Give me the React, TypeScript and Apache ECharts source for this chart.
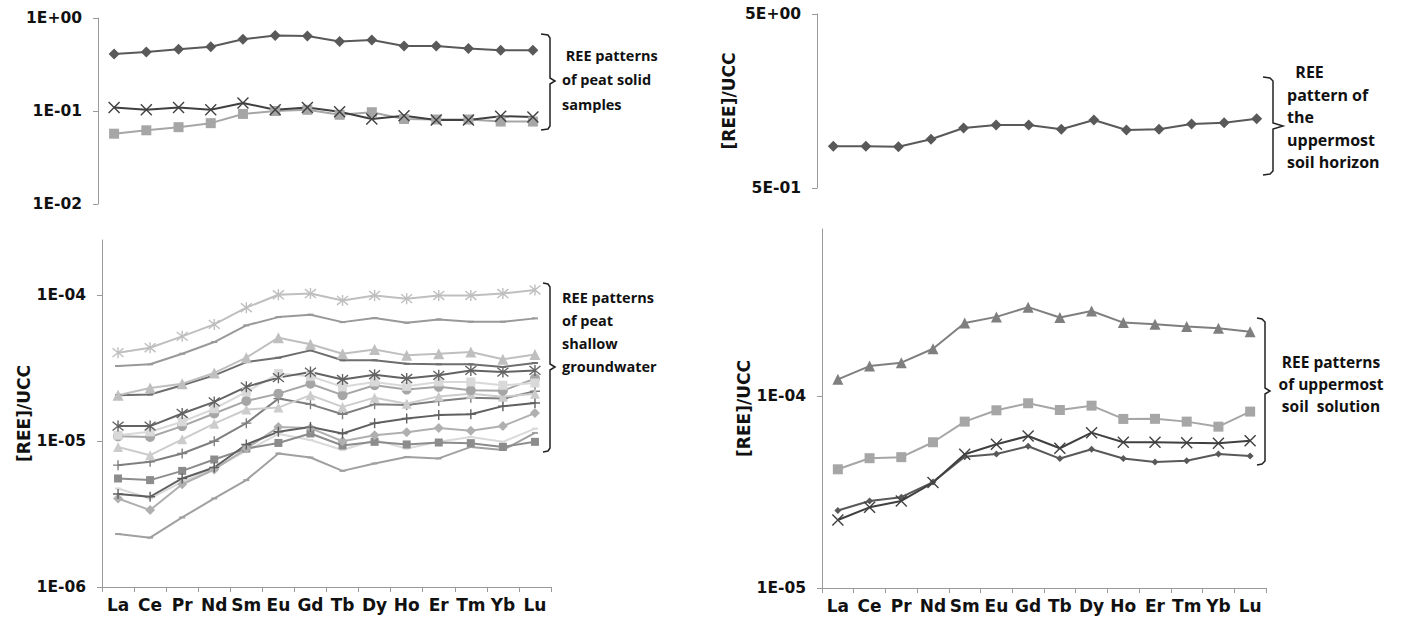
import React, { useEffect, useRef } from 'react';
import * as echarts from 'echarts';

const categories = ['La', 'Ce', 'Pr', 'Nd', 'Sm', 'Eu', 'Gd', 'Tb', 'Dy', 'Ho', 'Er', 'Tm', 'Yb', 'Lu'];

// Panel 1: peat solid samples
const peatSolidA = [0.41, 0.43, 0.46, 0.49, 0.59, 0.65, 0.64, 0.56, 0.58, 0.5, 0.5, 0.47, 0.45, 0.45];
const peatSolidB = [0.109, 0.103, 0.109, 0.103, 0.122, 0.103, 0.109, 0.098, 0.082, 0.089, 0.08, 0.08, 0.088, 0.086];
const peatSolidC = [0.057, 0.062, 0.067, 0.074, 0.093, 0.1, 0.103, 0.091, 0.097, 0.082, 0.081, 0.081, 0.077, 0.077];

// Panel 2: peat shallow groundwater
const gwA = [4.05e-5, 4.38e-5, 5.24e-5, 6.33e-5, 8.24e-5, 1.01e-4, 1.03e-4, 9.24e-5, 1.0e-4, 9.5e-5, 1.0e-4, 1.0e-4, 1.03e-4, 1.09e-4];
const gwB = [3.28e-5, 3.37e-5, 3.98e-5, 4.79e-5, 6.23e-5, 7.1e-5, 7.38e-5, 6.56e-5, 7.0e-5, 6.5e-5, 6.85e-5, 6.6e-5, 6.6e-5, 6.96e-5];
const gwC = [2.07e-5, 2.32e-5, 2.48e-5, 2.94e-5, 3.74e-5, 5.13e-5, 4.62e-5, 3.98e-5, 4.25e-5, 3.88e-5, 3.98e-5, 4.09e-5, 3.65e-5, 3.94e-5];
const gwD = [2.07e-5, 2.09e-5, 2.42e-5, 2.83e-5, 3.49e-5, 3.74e-5, 4.2e-5, 3.59e-5, 3.59e-5, 3.4e-5, 3.37e-5, 3.37e-5, 3.23e-5, 3.44e-5];
const gwE = [1.27e-5, 1.27e-5, 1.55e-5, 1.86e-5, 2.36e-5, 2.73e-5, 2.98e-5, 2.65e-5, 2.86e-5, 2.69e-5, 2.83e-5, 3.06e-5, 2.98e-5, 3.06e-5];
const gwF = [1.1e-5, 1.16e-5, 1.36e-5, 1.67e-5, 2.18e-5, 2.91e-5, 2.79e-5, 2.36e-5, 2.55e-5, 2.38e-5, 2.55e-5, 2.55e-5, 2.42e-5, 2.51e-5];
const gwG = [1.08e-5, 1.07e-5, 1.27e-5, 1.55e-5, 1.89e-5, 2.12e-5, 2.48e-5, 2.07e-5, 2.42e-5, 2.26e-5, 2.36e-5, 2.24e-5, 2.22e-5, 2.69e-5];
const gwH = [9.14e-6, 8.02e-6, 1.03e-5, 1.32e-5, 1.65e-5, 1.7e-5, 2.07e-5, 1.72e-5, 1.99e-5, 1.81e-5, 2.03e-5, 2.12e-5, 2.02e-5, 2.12e-5];
const gwI = [6.85e-6, 7.22e-6, 8.24e-6, 1.0e-5, 1.33e-5, 1.96e-5, 1.79e-5, 1.53e-5, 1.79e-5, 1.77e-5, 1.89e-5, 1.99e-5, 1.96e-5, 2.2e-5];
const gwJ = [4.34e-6, 4.16e-6, 5.55e-6, 6.6e-6, 9.5e-6, 1.16e-5, 1.25e-5, 1.13e-5, 1.33e-5, 1.43e-5, 1.51e-5, 1.53e-5, 1.74e-5, 1.83e-5];
const gwK = [4.05e-6, 3.37e-6, 5.07e-6, 6.4e-6, 8.9e-6, 1.25e-5, 1.23e-5, 1.0e-5, 1.1e-5, 1.15e-5, 1.23e-5, 1.18e-5, 1.27e-5, 1.56e-5];
const gwL = [5.55e-6, 5.41e-6, 6.26e-6, 7.49e-6, 8.9e-6, 9.73e-6, 1.13e-5, 9.35e-6, 9.9e-6, 9.5e-6, 9.8e-6, 9.7e-6, 9.14e-6, 9.9e-6];
const gwM = [4.74e-6, 4.05e-6, 5.26e-6, 6.5e-6, 8.58e-6, 1.12e-5, 1.02e-5, 8.7e-6, 1.02e-5, 8.9e-6, 9.9e-6, 1.07e-5, 9.9e-6, 1.22e-5];
const gwN = [2.31e-6, 2.18e-6, 3.0e-6, 4.05e-6, 5.41e-6, 8.24e-6, 7.73e-6, 6.26e-6, 7.04e-6, 7.8e-6, 7.62e-6, 9.14e-6, 8.7e-6, 1.14e-5];

// Panel 3: uppermost soil horizon
const soilHorizon = [0.87, 0.87, 0.864, 0.953, 1.106, 1.151, 1.15, 1.087, 1.23, 1.077, 1.087, 1.166, 1.186, 1.25];

// Panel 4: uppermost soil solution
const solA = [1.22e-4, 1.43e-4, 1.49e-4, 1.76e-4, 2.4e-4, 2.58e-4, 2.9e-4, 2.56e-4, 2.77e-4, 2.41e-4, 2.36e-4, 2.3e-4, 2.25e-4, 2.16e-4];
const solB = [4.15e-5, 4.74e-5, 4.8e-5, 5.74e-5, 7.35e-5, 8.42e-5, 9.16e-5, 8.45e-5, 8.9e-5, 7.59e-5, 7.6e-5, 7.35e-5, 6.92e-5, 8.29e-5];
const solC = [2.26e-5, 2.63e-5, 2.84e-5, 3.54e-5, 4.97e-5, 5.6e-5, 6.19e-5, 5.34e-5, 6.44e-5, 5.74e-5, 5.74e-5, 5.7e-5, 5.67e-5, 5.85e-5];
const solD = [2.53e-5, 2.84e-5, 2.97e-5, 3.56e-5, 4.83e-5, 4.99e-5, 5.47e-5, 4.72e-5, 5.28e-5, 4.72e-5, 4.53e-5, 4.6e-5, 4.99e-5, 4.87e-5];

// tick labels
const ticksTL = [1e-2, 1e-1, 1];
const ticksBL = [1e-6, 1e-5, 1e-4];
const ticksTR = [0.5, 5];
const ticksBR = [1e-5, 1e-4];

const AXIS = '#9a9a9a';
const LABEL_FONT = '"DejaVu Sans", sans-serif';
const NOTE_FONT = '"Open Sans", Lato, sans-serif';

const X_SYM = 'path://M0,0L10,10M10,0L0,10';
const PLUS_SYM = 'path://M5,0L5,10M0,5L10,5';
const STAR_SYM = 'path://M5,0L5,10M1,1L9,9M9,1L1,9';

function fmt(v: number): string {
  const e = Math.floor(Math.log10(v) + 1e-9);
  const m = Math.round(v / Math.pow(10, e));
  const s = e < 0 ? '-' : '+';
  return `${m}E${s}${String(Math.abs(e)).padStart(2, '0')}`;
}

function yAxis(gridIndex: number, min: number, max: number, ticks: number[], name?: string, nameGap?: number) {
  return {
    type: 'log',
    logBase: 10,
    gridIndex,
    min,
    max,
    name: name || '',
    nameLocation: 'middle',
    nameGap: nameGap || 0,
    nameTextStyle: { fontFamily: LABEL_FONT, fontWeight: 'bold', fontSize: 17, color: '#111' },
    axisLine: { show: true, lineStyle: { color: AXIS, width: 1 } },
    axisTick: { show: true, inside: false, length: 5, lineStyle: { color: AXIS }, customValues: ticks },
    axisLabel: {
      customValues: ticks,
      formatter: (v: number) => fmt(v),
      margin: 16,
      fontFamily: LABEL_FONT,
      fontWeight: 'bold',
      fontSize: 15.5,
      color: '#111',
    },
    splitLine: { show: false },
    minorTick: { show: false },
    minorSplitLine: { show: false },
  };
}

function xAxis(gridIndex: number, show: boolean) {
  return {
    type: 'category',
    gridIndex,
    data: categories,
    boundaryGap: true,
    show,
    axisLine: { show, lineStyle: { color: AXIS, width: 1 } },
    axisTick: { show, length: 5, alignWithLabel: false, lineStyle: { color: AXIS } },
    axisLabel: {
      show,
      interval: 0,
      margin: 9,
      fontFamily: LABEL_FONT,
      fontWeight: 'bold',
      fontSize: 17,
      color: '#111',
    },
    splitLine: { show: false },
  };
}

function line(idx: number, data: number[], color: string, symbol: string, size: number | number[], stroke = false) {
  return {
    type: 'line',
    xAxisIndex: idx,
    yAxisIndex: idx,
    data,
    symbol,
    symbolSize: size,
    showAllSymbol: true,
    lineStyle: { color, width: 2 },
    itemStyle: stroke ? { color, borderColor: color, borderWidth: 1.4 } : { color, borderWidth: 0 },
    emphasis: { disabled: true },
    z: 2,
  };
}

function brace(points: number[][]) {
  return {
    type: 'polyline',
    shape: { points },
    style: { stroke: '#222', lineWidth: 1.5, fill: null },
  };
}

function note(x: number, y: number, text: string, lineHeight: number, align = 'left', size = 15) {
  return {
    type: 'text',
    x,
    y,
    style: {
      text,
      font: `bold ${size}px ${NOTE_FONT}`,
      fill: '#111',
      lineHeight,
      align,
      verticalAlign: 'top',
    },
  };
}

export default function App() {
  const ref = useRef<HTMLDivElement>(null);
  useEffect(() => {
    if (!ref.current) return;
    const chart = echarts.init(ref.current, undefined, { renderer: 'svg' });
    const option = {
      animation: false,
      backgroundColor: '#ffffff',
      grid: [
        { left: 98, top: 18, width: 451, height: 186 },
        { left: 102, top: 240, width: 449, height: 347 },
        { left: 817, top: 14, width: 456, height: 174 },
        { left: 822, top: 229, width: 444, height: 359 },
      ],
      xAxis: [xAxis(0, false), xAxis(1, true), xAxis(2, false), xAxis(3, true)],
      yAxis: [
        yAxis(0, 0.01, 1, ticksTL),
        yAxis(1, 1e-6, 2.4e-4, ticksBL, '[REE]/UCC', 64),
        yAxis(2, 0.5, 5, ticksTR, '[REE]/UCC', 80),
        yAxis(3, 1e-5, 7.4e-4, ticksBR, '[REE]/UCC', 70),
      ],
      series: [
        line(0, peatSolidC, '#a6a6a6', 'rect', 10),
        line(0, peatSolidB, '#404040', X_SYM, 11, true),
        line(0, peatSolidA, '#595959', 'diamond', 11),

        line(1, gwN, '#a0a0a0', 'rect', [6, 2]),
        line(1, gwM, '#d9d9d9', 'rect', [6, 2]),
        line(1, gwL, '#8c8c8c', 'rect', 8),
        line(1, gwK, '#b0b0b0', 'diamond', 10),
        line(1, gwJ, '#5f5f5f', PLUS_SYM, 10, true),
        line(1, gwI, '#7f7f7f', PLUS_SYM, 10, true),
        line(1, gwH, '#cccccc', 'triangle', 10),
        line(1, gwG, '#a6a6a6', 'circle', 10),
        line(1, gwF, '#d9d9d9', 'rect', 9),
        line(1, gwE, '#636363', STAR_SYM, 11, true),
        line(1, gwD, '#6e6e6e', 'rect', [6, 2]),
        line(1, gwC, '#bfbfbf', 'triangle', 11),
        line(1, gwB, '#999999', 'rect', [6, 2]),
        line(1, gwA, '#bfbfbf', STAR_SYM, 11, true),

        line(2, soilHorizon, '#595959', 'diamond', 11),

        line(3, solD, '#595959', 'diamond', 7),
        line(3, solC, '#404040', X_SYM, 11, true),
        line(3, solB, '#a6a6a6', 'rect', 10),
        line(3, solA, '#7f7f7f', 'triangle', 11),
      ],
      graphic: [
        brace([[541, 34], [548, 35], [550, 38], [550, 78], [555, 81], [550, 84], [550, 126], [548, 129], [541, 130]]),
        note(562, 43, ' REE patterns\nof peat solid\nsamples', 24.5, 'left', 14.5),
        brace([[543, 283], [548, 284], [550, 287], [550, 364], [555, 367], [550, 370], [550, 448], [548, 451], [543, 452]]),
        note(562, 286, 'REE patterns\nof peat\nshallow\ngroundwater', 23, 'left', 14.5),
        brace([[1263, 77], [1270, 78], [1273, 81], [1273, 123], [1283, 126], [1273, 129], [1273, 171], [1270, 174], [1263, 175]]),
        note(1287, 61, '  REE\npattern of\nthe\nuppermost\nsoil horizon', 22.5, 'left', 16),
        brace([[1257, 318], [1262, 319], [1265, 322], [1265, 388], [1270, 391], [1265, 394], [1265, 461], [1262, 464], [1257, 465]]),
        note(1331, 351, 'REE patterns\nof uppermost\nsoil  solution', 22, 'center', 15.5),
      ],
    };
    chart.setOption(option as any);
    return () => chart.dispose();
  }, []);
  return (
    <div
      ref={ref}
      style={{ position: 'absolute', left: 0, top: 0, width: 1401, height: 621, background: '#fff' }}
    />
  );
}
